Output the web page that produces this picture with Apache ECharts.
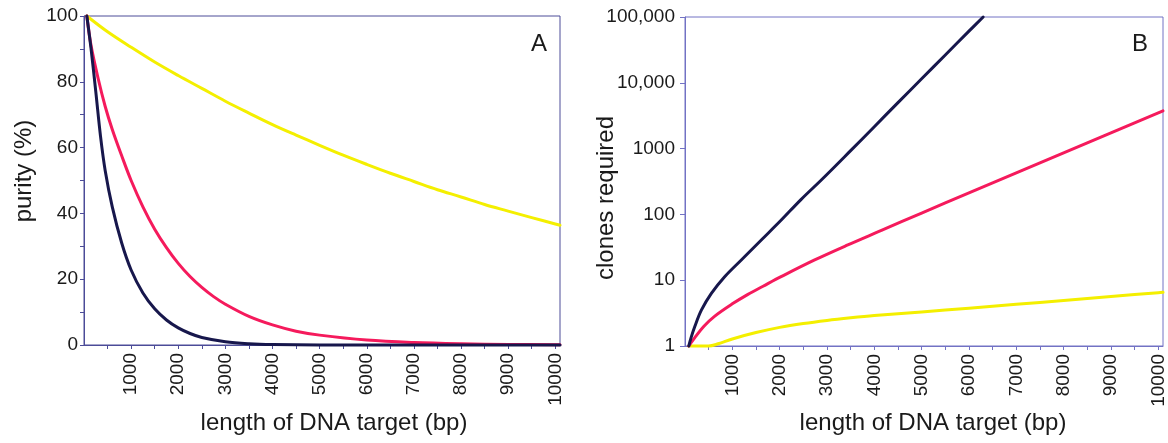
<!DOCTYPE html>
<html>
<head>
<meta charset="utf-8">
<script src="https://cdn.jsdelivr.net/npm/echarts@6/dist/echarts.min.js"></script>
<style>
  html, body { margin: 0; padding: 0; background: #ffffff; }
  #chart { width: 1168px; height: 443px; }
</style>
</head>
<body>
<div id="chart"></div>
<script>
// Panel A: purity (%) against target length (bp)
const purityYellowLen = [60, 500, 1000, 1500, 2000, 2500, 3000, 3500, 4000, 4500, 5000, 5500, 6000, 6500, 7000, 7500, 8000, 8500, 9000, 9500, 10000, 10100];
const purityYellow    = [100, 95.2, 90.5, 86, 81.9, 78, 74.1, 70.5, 67, 63.8, 60.7, 57.7, 54.9, 52.2, 49.7, 47.2, 45, 42.7, 40.7, 38.7, 36.8, 36.4];

const purityPinkLen = [60, 150, 300, 450, 600, 800, 1000, 1250, 1500, 1750, 2000, 2250, 2500, 2750, 3000, 3500, 4000, 4500, 5000, 6000, 7000, 8000, 9000, 10100];
const purityPink    = [100, 91, 81, 72.5, 65.5, 57.5, 50, 42, 35.2, 29.6, 24.8, 20.8, 17.5, 14.7, 12.4, 8.7, 6.1, 4.2, 3.0, 1.5, 0.75, 0.37, 0.18, 0.08];

const purityNavyLen = [60, 150, 250, 350, 450, 600, 800, 1000, 1250, 1500, 1750, 2000, 2250, 2500, 3000, 3500, 4000, 5000, 6000, 10100];
const purityNavy    = [100, 90, 77, 63.5, 53, 42, 31, 22.8, 15.8, 11, 7.6, 5.2, 3.5, 2.3, 1.0, 0.4, 0.15, 0.03, 0, 0];

// Panel B: clones required against target length (bp)
const clonesYellowLen = [80, 500, 700, 1000, 1500, 2000, 2500, 3000, 3500, 4000, 5000, 6000, 7000, 8000, 9000, 10000, 10100];
const clonesYellow    = [1, 1, 1.08, 1.28, 1.6, 1.92, 2.2, 2.45, 2.68, 2.9, 3.3, 3.75, 4.3, 4.9, 5.65, 6.45, 6.55];

const clonesPinkLen = [80, 200, 400, 630, 1000, 1330, 1650, 2030, 2740, 3440, 4150, 5000, 6000, 7000, 8000, 9000, 10000, 10100];
const clonesPink    = [1, 1.32, 2.0, 2.85, 4.37, 6.1, 8.1, 11.3, 20.3, 34.3, 57, 105, 212, 427, 860, 1740, 3500, 3760];

const clonesNavyLen = [80, 130, 205, 346, 557, 838, 1190, 1612, 2034, 2450, 2880, 3500, 4000, 4500, 5000, 5500, 6000, 6300];
const clonesNavy    = [1, 1.35, 1.96, 3.5, 6.3, 11.3, 20.3, 40.8, 82, 168, 333, 930, 2150, 5000, 11500, 26500, 61000, 100000];

// Axis ticks and labels
const lengthTicks  = [500, 1000, 1500, 2000, 2500, 3000, 3500, 4000, 4500, 5000, 5500, 6000, 6500, 7000, 7500, 8000, 8500, 9000, 9500, 10000];
const lengthLabels = [1000, 2000, 3000, 4000, 5000, 6000, 7000, 8000, 9000, 10000];
const purityLabels = [0, 20, 40, 60, 80, 100];

const xTitle = 'length of DNA target (bp)';

const COLORS = { yellow: '#f4ef00', pink: '#f51a5c', navy: '#17174c' };
const FONT = '"Liberation Sans", Arial, Helvetica, sans-serif';
const TEXT = '#1a1a1a';

function pairs(xs, ys) { return xs.map((x, i) => [x, ys[i]]); }

function curve(name, xs, ys, color, idx) {
  return {
    name, type: 'line', xAxisIndex: idx, yAxisIndex: idx,
    data: pairs(xs, ys), showSymbol: false, smooth: 0.35,
    clip: false, lineStyle: { color, width: 3, cap: 'round', join: 'round' }, itemStyle: { color }
  };
}

function xAxis(idx, frame) {
  return {
    type: 'value', gridIndex: idx, min: 0, max: 10100,
    splitLine: { show: false },
    axisLine: { show: true, lineStyle: { color: frame, width: 1 } },
    axisTick: { show: true, length: 4, inside: false, customValues: lengthTicks, lineStyle: { color: frame } },
    axisLabel: {
      customValues: lengthLabels, rotate: 90, margin: 8,
      color: TEXT, fontFamily: FONT, fontSize: 19,
      formatter: v => String(Math.round(v))
    }
  };
}

const chart = echarts.init(document.getElementById('chart'), null, { renderer: 'canvas' });

chart.setOption({
  animation: false,
  backgroundColor: '#ffffff',
  grid: [
    { left: 84, top: 16, width: 476, height: 329, show: true, borderColor: '#4c4c98', borderWidth: 1, outerBoundsMode: 'none' },
    { left: 685, top: 17, width: 478, height: 329, show: true, borderColor: '#7272c4', borderWidth: 1, outerBoundsMode: 'none' }
  ],
  xAxis: [xAxis(0, '#4c4c98'), xAxis(1, '#7272c4')],
  yAxis: [
    {
      type: 'value', gridIndex: 0, min: 0, max: 100, interval: 10,
      splitLine: { show: false },
      axisLine: { show: true, lineStyle: { color: '#4c4c98', width: 1 } },
      axisTick: { show: true, length: 4, lineStyle: { color: '#4c4c98' } },
      axisLabel: {
        margin: 6, color: TEXT, fontFamily: FONT, fontSize: 19,
        formatter: v => purityLabels.includes(v) ? String(v) : ''
      }
    },
    {
      type: 'log', logBase: 10, gridIndex: 1, min: 1, max: 100000,
      splitLine: { show: false },
      axisLine: { show: true, lineStyle: { color: '#7272c4', width: 1 } },
      axisTick: { show: true, length: 5, lineStyle: { color: '#7272c4' } },
      axisLabel: {
        margin: 10, color: TEXT, fontFamily: FONT, fontSize: 19,
        formatter: v => v >= 10000 ? String(Math.round(v)).replace(/\B(?=(\d{3})+(?!\d))/g, ',') : String(Math.round(v))
      }
    }
  ],
  series: [
    curve('yellow', purityYellowLen, purityYellow, COLORS.yellow, 0),
    curve('pink', purityPinkLen, purityPink, COLORS.pink, 0),
    curve('navy', purityNavyLen, purityNavy, COLORS.navy, 0),
    curve('yellow', clonesYellowLen, clonesYellow, COLORS.yellow, 1),
    curve('pink', clonesPinkLen, clonesPink, COLORS.pink, 1),
    curve('navy', clonesNavyLen, clonesNavy, COLORS.navy, 1)
  ],
  graphic: [
    { type: 'text', x: 334, y: 423, style: { text: xTitle, font: '24px ' + FONT, fill: TEXT, align: 'center', verticalAlign: 'middle' } },
    { type: 'text', x: 933, y: 423, style: { text: xTitle, font: '24px ' + FONT, fill: TEXT, align: 'center', verticalAlign: 'middle' } },
    { type: 'text', x: 24, y: 171, rotation: Math.PI / 2, style: { text: 'purity (%)', font: '24px ' + FONT, fill: TEXT, align: 'center', verticalAlign: 'middle' } },
    { type: 'text', x: 606, y: 198, rotation: Math.PI / 2, style: { text: 'clones required', font: '24px ' + FONT, fill: TEXT, align: 'center', verticalAlign: 'middle' } },
    { type: 'text', x: 539, y: 44, style: { text: 'A', font: '24px ' + FONT, fill: TEXT, align: 'center', verticalAlign: 'middle' } },
    { type: 'text', x: 1140, y: 44, style: { text: 'B', font: '24px ' + FONT, fill: TEXT, align: 'center', verticalAlign: 'middle' } }
  ]
});
</script>
</body>
</html>
